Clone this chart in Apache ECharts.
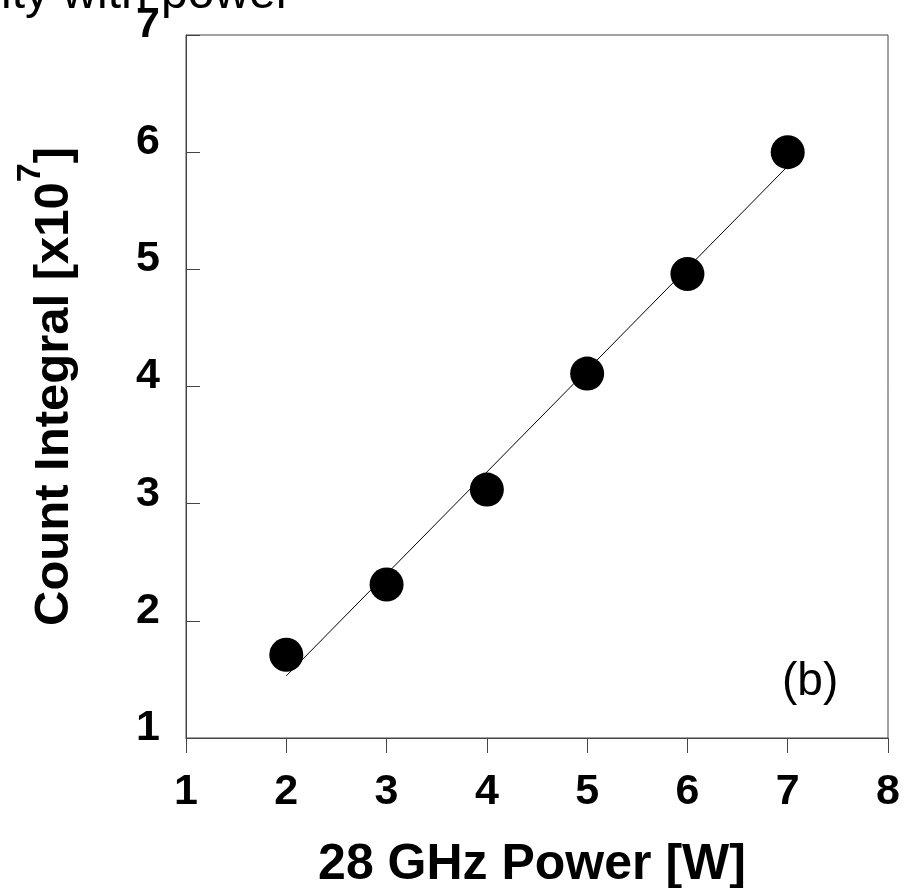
<!DOCTYPE html>
<html>
<head>
<meta charset="utf-8">
<script src="https://cdn.jsdelivr.net/npm/echarts@6/dist/echarts.min.js"></script>
<style>
  html, body { margin: 0; padding: 0; background: #fff; }
  #chart { width: 916px; height: 888px; }
</style>
</head>
<body>
<div id="chart"></div>
<script>
// data
const powerW = [2, 3, 4, 5, 6, 7]
const countIntegral = [1.71, 2.31, 3.12, 4.11, 4.96, 6.00]
// straight line fit drawn through the points
const fitX = [2, 7]
const fitY = [1.53, 5.88]
const xTicks = [1, 8, 1]   // min, max, step
const yTicks = [1, 7, 1]

const font = 'Liberation Sans, Arial, Helvetica, sans-serif'
const axisColor = '#444'

let chart = echarts.init(document.getElementById('chart'))
chart.setOption({
  animation: false,
  backgroundColor: '#fff',
  grid: {
    left: 186, right: 28, top: 35, bottom: 150,
    containLabel: false,
    outerBoundsMode: 'none',
    show: true, borderColor: axisColor, borderWidth: 1
  },
  graphic: [
    {
      // title cut off at the top of the page
      type: 'text', left: 1, top: -29,
      style: { text: 'ity with power', font: '48px ' + font, fill: '#000' }
    },
    {
      type: 'text', left: 782, top: 659,
      style: { text: '(b)', font: '46px ' + font, fill: '#000' }
    }
  ],
  xAxis: {
    type: 'value',
    min: xTicks[0], max: xTicks[1], interval: xTicks[2],
    name: '28 GHz Power [W]',
    nameLocation: 'middle',
    nameGap: 102,
    nameTextStyle: { fontFamily: font, fontWeight: 'bold', fontSize: 50, color: '#000', padding: [0, 10, 0, 0] },
    axisLine: { show: true, lineStyle: { color: axisColor, width: 1 } },
    axisTick: { show: true, inside: false, length: 15, lineStyle: { color: axisColor } },
    axisLabel: { margin: 33, fontFamily: font, fontWeight: 'bold', fontSize: 43, color: '#000' },
    splitLine: { show: false }
  },
  yAxis: {
    type: 'value',
    min: yTicks[0], max: yTicks[1], interval: yTicks[2],
    name: '{t|Count Integral [x10}{s|7}{t|]}',
    nameLocation: 'middle',
    nameGap: 92,
    nameTextStyle: {
      rich: {
        t: { fontFamily: font, fontWeight: 'bold', fontSize: 49, color: '#000', lineHeight: 80 },
        s: { fontFamily: font, fontWeight: 'bold', fontSize: 34, color: '#000', verticalAlign: 'top', lineHeight: 34 }
      }
    },
    axisLine: { show: true, lineStyle: { color: axisColor, width: 1 } },
    axisTick: { show: true, inside: true, length: 14, lineStyle: { color: axisColor } },
    axisLabel: {
      margin: 26, fontFamily: font, fontWeight: 'bold', fontSize: 43, color: '#000',
      verticalAlign: 'bottom', lineHeight: 20
    },
    splitLine: { show: false }
  },
  series: [
    {
      name: 'fit',
      type: 'line',
      data: fitX.map((x, i) => [x, fitY[i]]),
      showSymbol: false,
      lineStyle: { color: '#000', width: 1 },
      z: 1
    },
    {
      name: 'count',
      type: 'scatter',
      data: powerW.map((x, i) => [x, countIntegral[i]]),
      symbol: 'circle',
      symbolSize: 34,
      itemStyle: { color: '#000', opacity: 1 },
      z: 2
    }
  ]
})
</script>
</body>
</html>
